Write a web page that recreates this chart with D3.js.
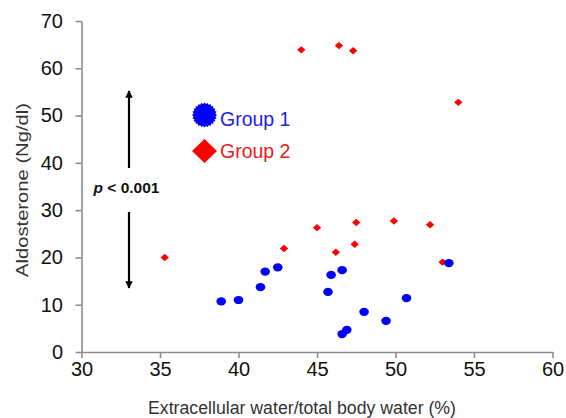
<!DOCTYPE html>
<html>
<head>
<meta charset="utf-8">
<script src="https://cdn.jsdelivr.net/npm/d3@7"></script>
<style>
  html, body { margin: 0; padding: 0; background: #fff; }
  svg { display: block; font-family: "Liberation Sans", Arial, sans-serif; }
</style>
</head>
<body>
<svg id="chart" width="566" height="418"></svg>
<script>
// ---- data ----
const group1X = [38.9, 40.0, 41.4, 41.7, 42.5, 45.9, 46.6, 45.7, 50.7, 48.0, 49.4, 46.9, 46.6, 53.4];
const group1Y = [10.7, 11.0, 13.7, 17.0, 17.9, 16.3, 17.3, 12.7, 11.4, 8.5, 6.6, 4.7, 3.8, 18.8];
const group2X = [35.3, 42.9, 45.0, 47.5, 49.9, 52.2, 46.2, 47.4, 53.0, 44.0, 46.4, 47.3, 54.0];
const group2Y = [20.0, 21.9, 26.3, 27.4, 27.7, 26.9, 21.1, 22.8, 19.0, 63.9, 64.8, 63.7, 52.8];
const xTicks = [30, 35, 40, 45, 50, 55, 60];
const yTicks = [0, 10, 20, 30, 40, 50, 60, 70];
const seriesNames = ["Group 1", "Group 2"];
const xTitle = "Extracellular water/total body water (%)";
const yTitle = "Aldosterone (Ng/dl)";

const svg = d3.select("#chart");
const x = d3.scaleLinear().domain([30, 60]).range([81.5, 552.5]);
const y = d3.scaleLinear().domain([0, 70]).range([352, 21]);
const axisColor = "#8c8c8c";

// x axis
const gx = svg.append("g").attr("transform", `translate(0,${y(0)})`)
  .call(d3.axisBottom(x).tickValues(xTicks).tickSize(6).tickSizeOuter(0).tickPadding(4));
gx.select(".domain").attr("stroke", axisColor).attr("stroke-width", 1.6);
gx.selectAll(".tick line").attr("stroke", axisColor).attr("stroke-width", 1.6);
gx.selectAll(".tick text").attr("font-size", 20).attr("fill", "#111")
  .attr("font-family", "Liberation Sans, Arial, sans-serif").attr("y", 9.5).attr("dy", "0.71em");

// y axis
const gy = svg.append("g").attr("transform", `translate(${x(30)},0)`)
  .call(d3.axisLeft(y).tickValues(yTicks).tickSize(6).tickSizeOuter(0).tickPadding(12));
gy.select(".domain").attr("stroke", axisColor).attr("stroke-width", 1.6);
gy.selectAll(".tick line").attr("stroke", axisColor).attr("stroke-width", 1.6);
gy.selectAll(".tick text").attr("font-size", 20).attr("fill", "#111")
  .attr("font-family", "Liberation Sans, Arial, sans-serif").attr("x", -18.5);

// axis titles
svg.append("text").attr("x", 302).attr("y", 414).attr("text-anchor", "middle")
  .attr("font-size", 17.5).attr("fill", "#333").attr("textLength", 308).attr("lengthAdjust", "spacingAndGlyphs")
  .text(xTitle);
svg.append("text").attr("transform", "translate(28,190) rotate(-90)").attr("text-anchor", "middle")
  .attr("font-size", 17).attr("fill", "#333").attr("textLength", 174).attr("lengthAdjust", "spacingAndGlyphs")
  .text(yTitle);

// points: group 2 diamonds
const diamond = (hw, hh) => `M0,${-hh}L${hw},0L0,${hh}L${-hw},0Z`;
svg.append("g").selectAll("path").data(group2X.map((d, i) => [d, group2Y[i]])).join("path")
  .attr("transform", d => `translate(${x(d[0])},${y(d[1])})`)
  .attr("d", diamond(4.2, 3.7)).attr("fill", "#ff0000");
// group 1 circles
svg.append("g").selectAll("ellipse").data(group1X.map((d, i) => [d, group1Y[i]])).join("ellipse")
  .attr("cx", d => x(d[0])).attr("cy", d => y(d[1])).attr("rx", 4.8).attr("ry", 4.1).attr("fill", "#0000ff");

// legend
const star = [];
const nPts = 48;
for (let i = 0; i < nPts; i++) {
  const a = (i / nPts) * 2 * Math.PI;
  star.push([a, i % 2 === 0 ? 12.5 : 11]);
}
svg.append("path").attr("transform", "translate(204.5,115)")
  .attr("d", d3.lineRadial().curve(d3.curveLinearClosed)(star)).attr("fill", "#0000ff");
svg.append("path").attr("transform", "translate(204.5,151)")
  .attr("d", diamond(12.5, 12)).attr("fill", "#ff0000");
svg.append("text").attr("x", 220).attr("y", 126).attr("font-size", 19.5).attr("fill", "#2020e8").text(seriesNames[0]);
svg.append("text").attr("x", 220).attr("y", 158).attr("font-size", 19.5).attr("fill", "#e82020").text(seriesNames[1]);

// p-value annotation with arrows
const defs = svg.append("defs");
defs.append("marker").attr("id", "ah").attr("viewBox", "0 0 10 10").attr("refX", 9).attr("refY", 5)
  .attr("markerWidth", 3.6).attr("markerHeight", 3.4).attr("orient", "auto")
  .append("path").attr("d", "M0,0L10,5L0,10Z").attr("fill", "#000");
svg.append("line").attr("x1", 129).attr("x2", 129).attr("y1", 168).attr("y2", 91)
  .attr("stroke", "#000").attr("stroke-width", 2.2).attr("marker-end", "url(#ah)");
svg.append("line").attr("x1", 129).attr("x2", 129).attr("y1", 212).attr("y2", 288)
  .attr("stroke", "#000").attr("stroke-width", 2.2).attr("marker-end", "url(#ah)");
const pt = svg.append("text").attr("x", 126.5).attr("y", 193).attr("text-anchor", "middle")
  .attr("font-size", 15.5).attr("font-weight", "bold").attr("fill", "#111");
pt.append("tspan").attr("font-style", "italic").text("p");
pt.append("tspan").text(" < 0.001");
</script>
</body>
</html>
